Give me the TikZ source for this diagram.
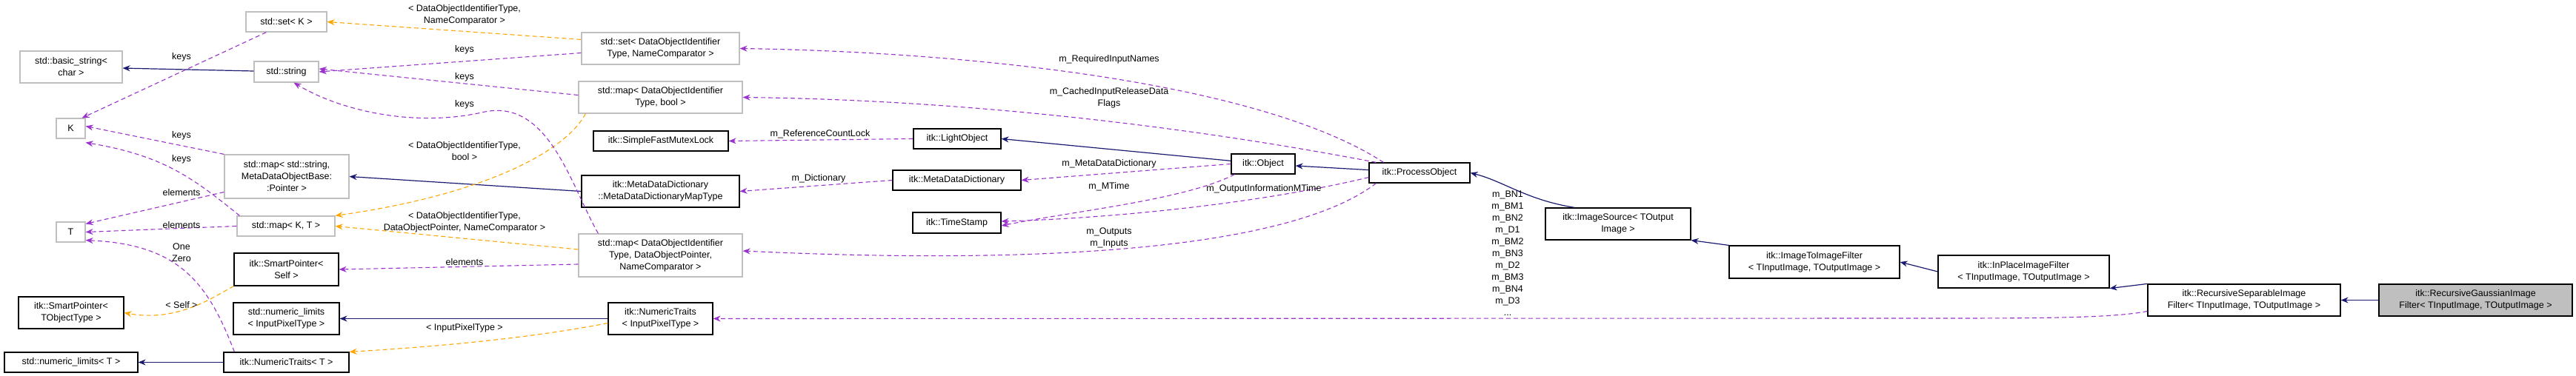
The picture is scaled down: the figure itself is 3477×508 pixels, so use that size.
\documentclass[tikz,border=0pt]{standalone}
\usepackage{fontspec}
\setmainfont{Liberation Sans}
\usepackage{tikz}
\usetikzlibrary{arrows.meta}
\definecolor{navy}{HTML}{191970}
\definecolor{orchid}{HTML}{9A32CD}
\definecolor{amber}{HTML}{FFA500}
\definecolor{rim}{HTML}{BFBFBF}

\begin{document}
\begin{tikzpicture}[
  x=1pt,y=-1pt,
  every node/.style={font=\fontsize{12.5}{16}\selectfont},
  cls/.style n args={2}{rectangle,draw=black,line width=1.2pt,fill=white,align=center,inner sep=1pt,minimum width=#1,minimum height=#2},
  ext/.style n args={2}{cls={#1}{#2},draw=rim},
  inherit/.style={navy,line width=1.2pt,-{Stealth[length=10pt,width=8pt]}},
  uses/.style={orchid,line width=1.1pt,dash pattern=on 6pt off 4pt,-{Stealth[length=10pt,width=8pt]}},
  tmpl/.style={amber,line width=1.1pt,dash pattern=on 6pt off 4pt,-{Stealth[length=10pt,width=8pt]}},
  lbl/.style={align=center,inner sep=0pt},
]
\useasboundingbox (0,0) rectangle (3477,508);

% left column
\node (setK) [ext={109}{27}] at (386.5,29.5) {std::set< K >};
\node (basicstr) [ext={138}{43}] at (96,90.5) {std::basic\_string<\\char >};
\node (stdstr) [ext={87}{28}] at (386.5,97) {std::string};
\node (K) [ext={39}{27}] at (95.5,173.5) {K};
\node (mapmeta) [ext={168}{59}] at (387,238.5) {std::map< std::string,\\MetaDataObjectBase:\\:Pointer >};
\node (T) [ext={39}{27}] at (95.5,313.5) {T};
\node (mapKT) [ext={132}{27}] at (386,305.5) {std::map< K, T >};
\node (spself) [cls={141}{44}] at (386.5,364) {itk::SmartPointer<\\Self >};
\node (spobj) [cls={142}{43}] at (96,422.5) {itk::SmartPointer<\\TObjectType >};
\node (nlinput) [cls={143}{43}] at (386.5,430.5) {std::numeric\_limits\\< InputPixelType >};
\node (nlT) [cls={180}{27}] at (96,489.5) {std::numeric\_limits< T >};
\node (ntT) [cls={169}{27}] at (386.5,489.5) {itk::NumericTraits< T >};

% middle column
\node (strset) [ext={213}{43}] at (891.5,65.5) {std::set< DataObjectIdentifier\\Type, NameComparator >};
\node (mapbool) [ext={221}{43}] at (891.5,131.5) {std::map< DataObjectIdentifier\\Type, bool >};
\node (mutex) [cls={182}{27}] at (892,190.5) {itk::SimpleFastMutexLock};
\node (maptype) [cls={213}{43}] at (891.5,258.5) {itk::MetaDataDictionary\\::MetaDataDictionaryMapType};
\node (mapdop) [ext={221}{58}] at (891.5,345) {std::map< DataObjectIdentifier\\Type, DataObjectPointer,\\NameComparator >};
\node (ntinput) [cls={141}{43}] at (891.5,430.5) {itk::NumericTraits\\< InputPixelType >};

\node (light) [cls={118}{27}] at (1292,187.5) {itk::LightObject};
\node (mdd) [cls={173}{27}] at (1291.5,243.5) {itk::MetaDataDictionary};
\node (tstamp) [cls={119}{28}] at (1291.5,301) {itk::TimeStamp};
\node (object) [cls={86}{27}] at (1705,221.5) {itk::Object};
\node (procobj) [cls={136}{27}] at (1916,233.5) {itk::ProcessObject};

% filter chain
\node (imgsrc) [cls={196}{43}] at (2184,302.5) {itk::ImageSource< TOutput\\Image >};
\node (i2i) [cls={230}{44}] at (2449,354) {itk::ImageToImageFilter\\< TInputImage, TOutputImage >};
\node (inplace) [cls={231}{44}] at (2731.5,367) {itk::InPlaceImageFilter\\< TInputImage, TOutputImage >};
\node (recsep) [cls={260}{43}] at (3029,405.5) {itk::RecursiveSeparableImage\\Filter< TInputImage, TOutputImage >};
\node (recgauss) [cls={261}{43},fill=rim] at (3341.5,405.5) {itk::RecursiveGaussianImage\\Filter< TInputImage, TOutputImage >};

% inheritance
\draw[inherit] (stdstr) -- (basicstr);
\draw[inherit] (maptype.west) -- (mapmeta.east);
\draw[inherit] (ntinput.west) -- (nlinput.east);
\draw[inherit] (ntT) -- (nlT);
\draw[inherit] (object) -- (light.east);
\draw[inherit] (procobj) -- (object);
\draw[inherit] (imgsrc.north west) ++(40,0) .. controls (2060,270) and (2030,245) .. (procobj.east);
\draw[inherit] (i2i.north west) -- (imgsrc.south east);
\draw[inherit] (inplace.west) -- (i2i.east);
\draw[inherit] (recsep.north west) -- (inplace.south east);
\draw[inherit] (recgauss) -- (recsep);

% templates
\draw[tmpl] (strset.north west) ++(0,10) -- (setK.east);
\draw[tmpl] (mapbool.south west) ++(10,0) .. controls (760,210) and (640,265) .. (mapKT.north east);
\draw[tmpl] (mapdop.west) ++(0,-8) -- (mapKT.east);
\draw[tmpl] (spself.south west) .. controls (290,400) and (240,436) .. (spobj.east);
\draw[tmpl] (ntinput.west) ++(0,6) .. controls (700,460) and (560,470) .. (ntT.north east);
\node [lbl] at (627,20) {< DataObjectIdentifierType,\\NameComparator >};
\node [lbl] at (627,204) {< DataObjectIdentifierType,\\bool >};
\node [lbl] at (627,300) {< DataObjectIdentifierType,\\DataObjectPointer, NameComparator >};
\node [lbl] at (245,412) {< Self >};
\node [lbl] at (627,443) {< InputPixelType >};

% members
\draw[uses] (strset.west) ++(0,6) -- (stdstr.east);
\draw[uses] (mapbool.west) ++(0,-3) -- ([yshift=4]stdstr.east);
\draw[uses] (mapdop.north west) ++(27,0) .. controls (770,250) and (740,130) .. (650,152) .. controls (560,172) and (460,150) .. ([xshift=10]stdstr.south);
\draw[uses] (setK.south west) ++(28,0) -- ([xshift=-5]K.north east);
\draw[uses] (mapmeta.north west) -- ([yshift=3]K.east);
\draw[uses] (mapKT.north west) ++(4,0) .. controls (260,240) and (220,210) .. ([yshift=-5]K.south east);
\draw[uses] (mapmeta.west) ++(0,21) -- ([yshift=-3]T.north east);
\draw[uses] (mapKT.west) -- (T.east);
\draw[uses] (ntT.north west) ++(15,0) .. controls (280,380) and (240,330) .. ([yshift=3]T.south east);
\draw[uses] (mapdop.west) ++(0,12) -- (spself.east);
\draw[uses] (light.west) -- (mutex.east);
\draw[uses] (mdd.west) -- (maptype.east);
\draw[uses] (object.west) -- (mdd.east);
\draw[uses] (object.south west) ++(5,0) .. controls (1600,270) and (1450,285) .. ([yshift=-4]tstamp.east);
\draw[uses] (procobj.south west) ++(0,-8) .. controls (1700,275) and (1500,295) .. ([yshift=2]tstamp.east);
\draw[uses] (procobj.north west) ++(20,0) .. controls (1700,110) and (1300,70) .. (strset.east);
\draw[uses] (procobj.north west) ++(10,0) .. controls (1600,170) and (1300,135) .. (mapbool.east);
\draw[uses] (procobj.south west) ++(10,0) .. controls (1750,330) and (1450,360) .. ([yshift=6]mapdop.east);
\draw[uses] (recsep.west) ++(0,15) .. controls (2850,430) and (2750,430) .. (2600,430) -- (ntinput.east);
\node [lbl] at (245,77) {keys};
\node [lbl] at (627,67) {keys};
\node [lbl] at (627,104) {keys};
\node [lbl] at (627,141) {keys};
\node [lbl] at (245,183) {keys};
\node [lbl] at (245,215) {keys};
\node [lbl] at (245,260) {elements};
\node [lbl] at (245,304) {elements};
\node [lbl] at (245,341) {One\\Zero};
\node [lbl] at (627,354) {elements};
\node [lbl] at (1107,181) {m\_ReferenceCountLock};
\node [lbl] at (1105,241) {m\_Dictionary};
\node [lbl] at (1497,221) {m\_MetaDataDictionary};
\node [lbl] at (1497,252) {m\_MTime};
\node [lbl] at (1706,255) {m\_OutputInformationMTime};
\node [lbl] at (1497,80) {m\_RequiredInputNames};
\node [lbl] at (1497,132) {m\_CachedInputReleaseData\\Flags};
\node [lbl] at (1497,321) {m\_Outputs\\m\_Inputs};
\node [lbl] at (2035,342) {m\_BN1\\m\_BM1\\m\_BN2\\m\_D1\\m\_BM2\\m\_BN3\\m\_D2\\m\_BM3\\m\_BN4\\m\_D3\\...};
\end{tikzpicture}
\end{document}
